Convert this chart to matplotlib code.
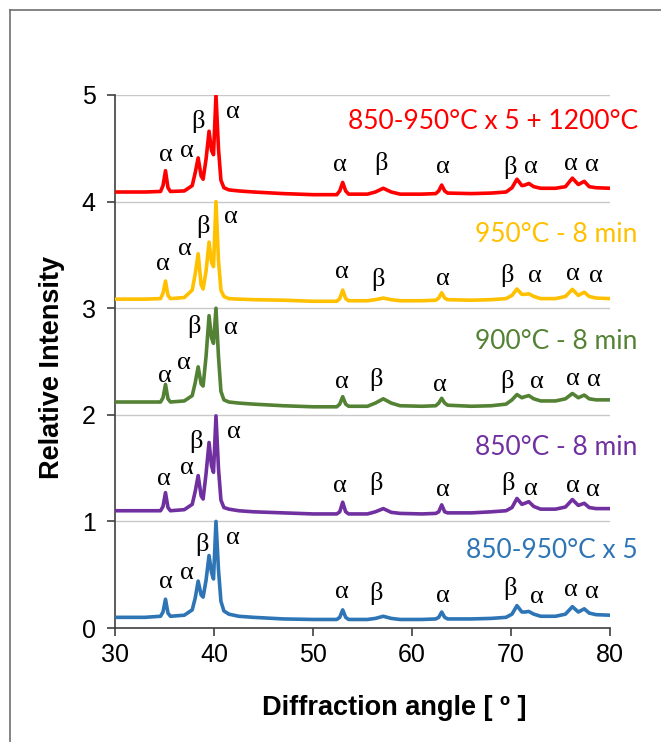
import matplotlib
matplotlib.use("Agg")
import matplotlib.pyplot as plt
from matplotlib.lines import Line2D

# ---------------- data ----------------
angles = [30, 33, 34.6, 34.85, 35.1, 35.35, 35.6, 37.0, 37.8, 38.1, 38.4, 38.7, 38.9, 39.2,
          39.5, 39.75, 39.95, 40.2, 40.45, 40.7, 41.0, 41.5, 42.5, 44, 47, 50, 52.4, 52.7,
          53.0, 53.3, 53.6, 55.5, 56.3, 57.1, 57.9, 58.8, 61, 62.4, 62.7, 63.0, 63.3, 63.6,
          66, 68, 69.5, 70.1, 70.6, 71.1, 71.4, 71.8, 72.3, 73.0, 74.5, 75.5, 76.2, 76.8,
          77.4, 77.9, 78.6, 80]

int_blue = [0.10, 0.10, 0.11, 0.15, 0.27, 0.14, 0.11, 0.12, 0.17, 0.28, 0.44, 0.31, 0.29, 0.45,
            0.68, 0.52, 0.46, 1.00, 0.55, 0.25, 0.16, 0.13, 0.11, 0.10, 0.085, 0.08, 0.08, 0.10,
            0.17, 0.10, 0.08, 0.08, 0.09, 0.11, 0.09, 0.08, 0.08, 0.085, 0.10, 0.15, 0.10, 0.085,
            0.085, 0.09, 0.10, 0.13, 0.21, 0.15, 0.15, 0.155, 0.13, 0.11, 0.11, 0.13, 0.20, 0.15,
            0.18, 0.14, 0.125, 0.12]
int_purple = [0.10, 0.10, 0.10, 0.14, 0.27, 0.13, 0.10, 0.11, 0.16, 0.28, 0.43, 0.24, 0.21, 0.45,
              0.74, 0.52, 0.46, 0.99, 0.50, 0.20, 0.13, 0.115, 0.10, 0.09, 0.08, 0.07, 0.07, 0.09,
              0.18, 0.09, 0.07, 0.07, 0.09, 0.12, 0.085, 0.075, 0.07, 0.075, 0.09, 0.155, 0.09, 0.08,
              0.08, 0.09, 0.10, 0.13, 0.215, 0.16, 0.17, 0.185, 0.14, 0.115, 0.115, 0.135, 0.205, 0.15,
              0.17, 0.13, 0.12, 0.12]
int_green = [0.12, 0.12, 0.12, 0.16, 0.285, 0.15, 0.12, 0.13, 0.18, 0.30, 0.45, 0.29, 0.27, 0.55,
             0.93, 0.72, 0.67, 1.00, 0.55, 0.22, 0.14, 0.12, 0.11, 0.10, 0.085, 0.075, 0.075, 0.10,
             0.17, 0.10, 0.08, 0.08, 0.11, 0.15, 0.11, 0.085, 0.08, 0.085, 0.11, 0.155, 0.11, 0.09,
             0.08, 0.085, 0.10, 0.14, 0.19, 0.16, 0.17, 0.18, 0.15, 0.13, 0.13, 0.15, 0.20, 0.16,
             0.185, 0.15, 0.14, 0.14]
int_yellow = [0.085, 0.085, 0.09, 0.14, 0.255, 0.12, 0.09, 0.10, 0.17, 0.32, 0.51, 0.22, 0.18, 0.35,
              0.62, 0.43, 0.39, 1.00, 0.45, 0.17, 0.11, 0.09, 0.085, 0.08, 0.075, 0.065, 0.065, 0.09,
              0.17, 0.09, 0.07, 0.07, 0.08, 0.095, 0.08, 0.07, 0.07, 0.075, 0.095, 0.145, 0.095, 0.08,
              0.075, 0.08, 0.09, 0.12, 0.18, 0.13, 0.13, 0.135, 0.11, 0.09, 0.09, 0.11, 0.177, 0.12,
              0.15, 0.11, 0.095, 0.09]
int_red = [0.09, 0.09, 0.095, 0.15, 0.29, 0.13, 0.095, 0.10, 0.15, 0.27, 0.41, 0.24, 0.21, 0.40,
           0.66, 0.48, 0.44, 1.00, 0.50, 0.20, 0.13, 0.11, 0.10, 0.09, 0.075, 0.065, 0.065, 0.10,
           0.18, 0.10, 0.07, 0.07, 0.09, 0.125, 0.09, 0.07, 0.07, 0.075, 0.10, 0.155, 0.10, 0.08,
           0.075, 0.08, 0.09, 0.13, 0.21, 0.15, 0.155, 0.17, 0.14, 0.125, 0.125, 0.14, 0.22, 0.16,
           0.19, 0.14, 0.13, 0.125]

series_names = ["850-950°C x 5", "850°C - 8 min", "900°C - 8 min", "950°C - 8 min",
                "850-950°C x 5 + 1200°C"]
series_offsets = [0, 1, 2, 3, 4]
series_colors = ["#2E75B6", "#7030A0", "#548235", "#FFC000", "#FF0000"]
series_data = [int_blue, int_purple, int_green, int_yellow, int_red]

phase_symbols = ["α", "α", "β", "α", "α", "β", "α", "β", "α", "α", "α"]
lab_x_blue = [35.15, 37.3, 38.75, 41.95, 52.9, 56.4, 63.1, 69.9, 72.6, 76.0, 78.2]
lab_y_blue = [0.43, 0.52, 0.78, 0.84, 0.34, 0.32, 0.30, 0.37, 0.29, 0.36, 0.34]
lab_x_purple = [34.9, 37.3, 38.2, 42.0, 52.7, 56.4, 63.1, 69.7, 72.0, 76.3, 78.3]
lab_y_purple = [0.40, 0.50, 0.75, 0.84, 0.33, 0.36, 0.29, 0.36, 0.30, 0.33, 0.29]
lab_x_green = [35.05, 37.0, 38.0, 41.7, 52.9, 56.4, 62.8, 69.6, 72.6, 76.3, 78.4]
lab_y_green = [0.36, 0.49, 0.83, 0.81, 0.31, 0.33, 0.28, 0.31, 0.31, 0.34, 0.33]
lab_x_yellow = [34.8, 37.1, 38.9, 41.7, 52.9, 56.6, 63.1, 69.6, 72.4, 76.3, 78.6]
lab_y_yellow = [0.415, 0.56, 0.765, 0.86, 0.34, 0.27, 0.27, 0.31, 0.30, 0.32, 0.30]
lab_x_red = [35.15, 37.3, 38.35, 41.9, 52.7, 56.9, 63.1, 69.9, 72.0, 76.0, 78.2]
lab_y_red = [0.44, 0.475, 0.75, 0.84, 0.34, 0.36, 0.32, 0.32, 0.32, 0.35, 0.34]
label_x = [lab_x_blue, lab_x_purple, lab_x_green, lab_x_yellow, lab_x_red]
label_y = [lab_y_blue, lab_y_purple, lab_y_green, lab_y_yellow, lab_y_red]

name_y = [0.73, 0.69, 0.69, 0.69, 0.75]

x_ticks = [30, 40, 50, 60, 70, 80]
y_ticks = [0, 1, 2, 3, 4, 5]

# ---------------- figure ----------------
fig = plt.figure(figsize=(6.61, 7.42), dpi=100)
ax = fig.add_axes([115 / 661, 1 - 628 / 742, 495 / 661, 533 / 742])

# outer frame (top and left edges visible)
fig.add_artist(Line2D([9.5 / 661, 1.0], [1 - 9.5 / 742, 1 - 9.5 / 742], color="#707070", lw=1.2,
                      transform=fig.transFigure))
fig.add_artist(Line2D([9.5 / 661, 9.5 / 661], [0.0, 1 - 9.5 / 742], color="#707070", lw=1.2,
                      transform=fig.transFigure))

for yt in y_ticks[1:]:
    ax.axhline(yt, color="#C8C8C8", lw=1.0, zorder=0)

for data, off, col in zip(series_data, series_offsets, series_colors):
    ax.plot(angles, [v + off for v in data], color=col, lw=2.6, zorder=3,
            solid_joinstyle="round")

greek_font = dict(family=["Liberation Serif", "DejaVu Serif"], fontsize=19, color="black")
for xs, ys, off in zip(label_x, label_y, series_offsets):
    for sx, sy, sym in zip(xs, ys, phase_symbols):
        ax.text(sx, sy + off, sym, ha="center", va="center", zorder=4, **greek_font)

name_font = dict(family=["Lato", "DejaVu Sans"], fontsize=19)
for name, off, col, ny in zip(series_names, series_offsets, series_colors, name_y):
    ax.text(82.8, off + ny, name, ha="right", va="center", color=col, clip_on=False, **name_font)

ax.set_xlim(30, 80)
ax.set_ylim(0, 5)
ax.set_xticks(x_ticks)
ax.set_yticks(y_ticks)
ax.set_xticklabels([str(t) for t in x_ticks])
ax.set_yticklabels([str(t) for t in y_ticks])

sans = ["Liberation Sans", "DejaVu Sans"]
for lab in ax.get_xticklabels() + ax.get_yticklabels():
    lab.set_family(sans)
    lab.set_fontsize(18)

ax.tick_params(axis="both", direction="out", length=6, width=1.2, color="#404040")
ax.tick_params(axis="x", pad=5)
ax.tick_params(axis="y", pad=8)
for s in ["top", "right"]:
    ax.spines[s].set_visible(False)
for s in ["left", "bottom"]:
    ax.spines[s].set_color("#404040")
    ax.spines[s].set_linewidth(1.2)

ax.set_xlabel("Diffraction angle [ º ]", family=sans, fontsize=19.5, fontweight="bold")
ax.xaxis.set_label_coords((394.5 - 115) / 495, (628 - 708) / 533)
ax.xaxis.label.set_va("center")
ax.set_ylabel("Relative Intensity", family=sans, fontsize=19.5, fontweight="bold")
ax.yaxis.set_label_coords((52 - 115) / 495, (628 - 367) / 533)
ax.yaxis.label.set_va("center")

fig.savefig("out.png", dpi=100)
